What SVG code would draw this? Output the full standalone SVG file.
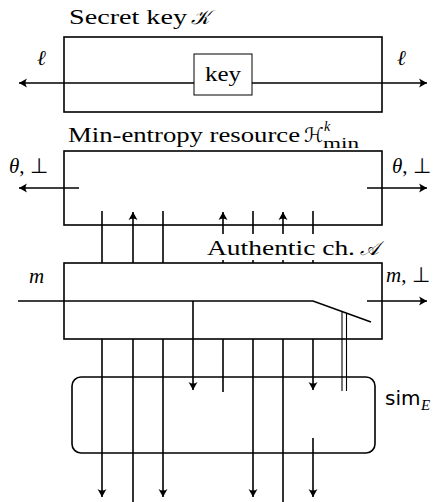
<svg xmlns="http://www.w3.org/2000/svg" width="438" height="502" viewBox="0 0 438 502">
<style>
  .box{fill:none;stroke:#000;stroke-width:1.6}
  .ln{fill:none;stroke:#000;stroke-width:1.6}
  .thin{fill:none;stroke:#000;stroke-width:1.1}
  .t{font-family:"Liberation Serif",serif;font-size:21px;fill:#000}
  .m{font-family:"Liberation Serif",serif;font-style:italic;font-size:21px;fill:#000}
  .cal{font-family:"DejaVu Sans","Liberation Serif","Noto Sans",serif;font-style:italic;font-size:20px;fill:#000}
  .s{font-family:"Liberation Serif",serif;font-size:14px;fill:#000}
  .sf{font-family:"DejaVu Sans","Liberation Sans",sans-serif;font-size:20px;fill:#000}
</style>
<defs>
  <marker id="ah" markerUnits="userSpaceOnUse" markerWidth="12" markerHeight="12" viewBox="-10 -6 12 12" refX="0" refY="0" orient="auto" overflow="visible">
    <path d="M0,0 L-8,-4.5 Q-5,0 -8,4.5 Z" fill="#000"/>
  </marker>
</defs>
<rect width="438" height="502" fill="#fff"/>

<g id="connectors">
  <line class="ln" x1="223" y1="83" x2="19" y2="83" marker-end="url(#ah)"/>
  <line class="ln" x1="223" y1="83" x2="427" y2="83" marker-end="url(#ah)"/>
  <line class="ln" x1="79" y1="188" x2="19" y2="188" marker-end="url(#ah)"/>
  <line class="ln" x1="367" y1="188" x2="427" y2="188" marker-end="url(#ah)"/>
  <line class="ln" x1="102" y1="211" x2="102" y2="263"/>
  <line class="ln" x1="133" y1="263" x2="133" y2="212" marker-end="url(#ah)"/>
  <line class="ln" x1="163" y1="211" x2="163" y2="263"/>
  <line class="ln" x1="223" y1="263" x2="223" y2="212" marker-end="url(#ah)"/>
  <line class="ln" x1="253" y1="211" x2="253" y2="263"/>
  <line class="ln" x1="283" y1="263" x2="283" y2="212" marker-end="url(#ah)"/>
  <line class="ln" x1="313" y1="211" x2="313" y2="263"/>
  <path class="ln" d="M18,301 H313 L371,322"/>
  <line class="ln" x1="367" y1="301" x2="427" y2="301" marker-end="url(#ah)"/>
  <line class="ln" x1="193" y1="301" x2="193" y2="390" marker-end="url(#ah)"/>
  <line class="ln" x1="102" y1="339" x2="102" y2="497" marker-end="url(#ah)"/>
  <line class="ln" x1="133" y1="339" x2="133" y2="502"/>
  <line class="ln" x1="163" y1="339" x2="163" y2="497" marker-end="url(#ah)"/>
  <line class="ln" x1="223" y1="339" x2="223" y2="392"/>
  <line class="ln" x1="253" y1="339" x2="253" y2="497" marker-end="url(#ah)"/>
  <line class="ln" x1="283" y1="339" x2="283" y2="502"/>
  <line class="ln" x1="313" y1="339" x2="313" y2="390" marker-end="url(#ah)"/>
  <line class="ln" x1="313" y1="438" x2="313" y2="497" marker-end="url(#ah)"/>
  <line class="thin" x1="342" y1="311.5" x2="342" y2="391"/>
  <line class="thin" x1="346.5" y1="313" x2="346.5" y2="391"/>
</g>

<g id="secret-key">
  <rect class="box" x="64" y="37" width="318" height="75"/>
  <text class="t" x="69" y="24" textLength="118" lengthAdjust="spacingAndGlyphs">Secret key</text>
  <text class="cal" x="191" y="24">𝒦</text>
  <text class="m" x="37" y="65">ℓ</text>
  <text class="m" x="397" y="65">ℓ</text>
</g>
<g id="key">
  <rect x="194" y="54" width="58" height="41" fill="#fff" stroke="#000" stroke-width="1"/>
  <text class="t" x="223" y="81" text-anchor="middle" textLength="36" lengthAdjust="spacingAndGlyphs">key</text>
</g>

<g id="min-entropy">
  <rect class="box" x="64" y="151" width="318" height="74"/>
  <text class="t" x="68" y="142" textLength="232" lengthAdjust="spacingAndGlyphs">Min-entropy resource</text>
  <text class="cal" x="304" y="142">ℋ</text>
  <text class="m" x="324" y="131" style="font-size:14px">k</text>
  <text class="s" x="323" y="148" textLength="36" lengthAdjust="spacingAndGlyphs">min</text>
  <text class="t" x="9" y="173"><tspan class="m">θ</tspan>, ⊥</text>
  <text class="t" x="392" y="173"><tspan class="m">θ</tspan>, ⊥</text>
</g>

<g id="authentic">
  <rect class="box" x="64" y="263" width="318" height="76"/>
  <rect x="204" y="234" width="176" height="26" fill="#fff"/>
  <text class="t" x="207" y="255" textLength="148" lengthAdjust="spacingAndGlyphs">Authentic ch.</text>
  <text class="cal" x="360" y="255">𝒜</text>
  <text class="m" x="29" y="283">m</text>
  <text class="t" x="386" y="282"><tspan class="m">m</tspan>, ⊥</text>
</g>

<g id="sim">
  <rect class="box" x="72" y="377" width="303" height="76" rx="9" ry="9"/>
  <text class="sf" x="385" y="405">sim</text>
  <text class="m" x="421" y="410" style="font-size:15px">E</text>
</g>
</svg>
